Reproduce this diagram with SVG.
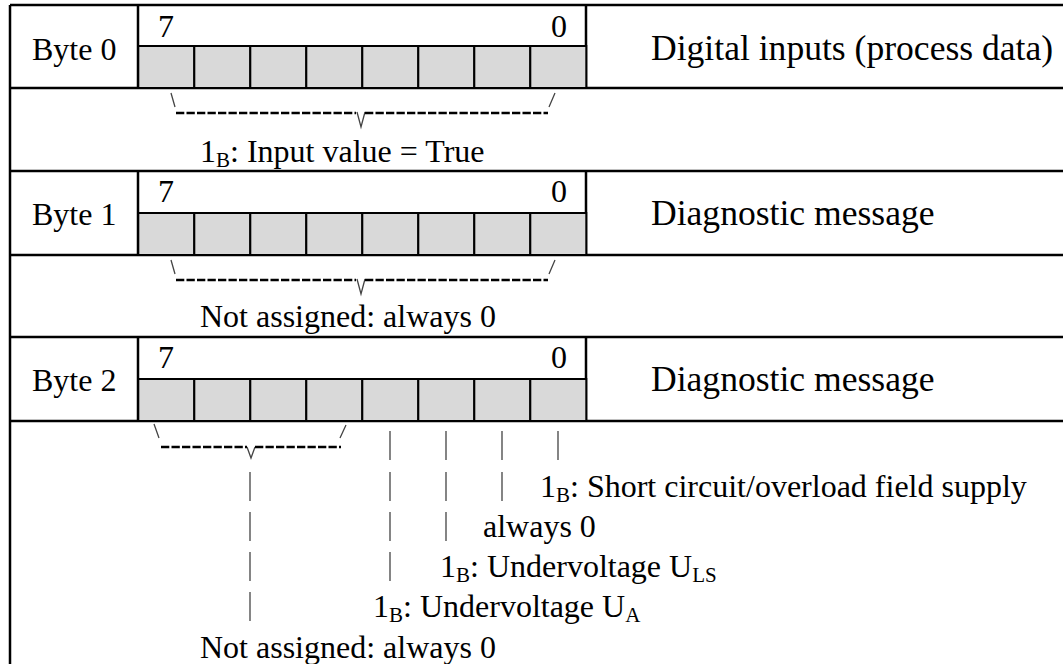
<svg xmlns="http://www.w3.org/2000/svg" width="1063" height="664" viewBox="0 0 1063 664">
<defs>
<style>
.t{font-family:"Liberation Serif","Times New Roman",serif;font-size:32px;fill:#000}
.r{font-size:35.6px}
.sub{font-size:21px}
.grid{stroke:#000;stroke-width:2.5;fill:none}
.cell{fill:#d9d9d9;stroke:#000;stroke-width:2}
.thin{stroke:#444;stroke-width:1.3;fill:none}
.dash{stroke:#000;stroke-width:2.6;stroke-dasharray:8.3 2.2;fill:none}
</style>
<g id="bits">
<rect class="cell" x="0" y="0" width="56" height="42"/>
<rect class="cell" x="56" y="0" width="56" height="42"/>
<rect class="cell" x="112" y="0" width="56" height="42"/>
<rect class="cell" x="168" y="0" width="56" height="42"/>
<rect class="cell" x="224" y="0" width="56" height="42"/>
<rect class="cell" x="280" y="0" width="56" height="42"/>
<rect class="cell" x="336" y="0" width="56" height="42"/>
<rect class="cell" x="392" y="0" width="56" height="42"/>
</g>
</defs>
<rect x="0" y="0" width="1063" height="664" fill="#fff"/>

<g id="table">
<path class="grid" d="M10,5H1063M10,88H1063M10,171H1063M10,255H1063M10,337H1063M10,421H1063M10,5V664"/>
<path class="grid" d="M138,5V88M586,5V88M138,171V255M586,171V255M138,337V421M586,337V421"/>
</g>

<g id="byte0">
<text class="t" x="32" y="60">Byte 0</text>
<use href="#bits" x="138.3" y="46"/>
<text class="t" x="158" y="37">7</text>
<text class="t" x="551" y="37">0</text>
<text class="t r" x="651" y="60">Digital inputs (process data)</text>
</g>
<g id="detail0">
<text class="t" x="200" y="162">1<tspan class="sub" dy="5">B</tspan><tspan dy="-5">: Input value = True</tspan></text>
</g>

<g id="byte1">
<text class="t" x="32" y="225">Byte 1</text>
<use href="#bits" x="138.3" y="213"/>
<text class="t" x="158" y="202">7</text>
<text class="t" x="551" y="202">0</text>
<text class="t r" x="651" y="225">Diagnostic message</text>
</g>
<g id="detail1">
<text class="t" x="200" y="327">Not assigned: always 0</text>
</g>

<g id="byte2">
<text class="t" x="32" y="391">Byte 2</text>
<use href="#bits" x="138.3" y="379"/>
<text class="t" x="158" y="368">7</text>
<text class="t" x="551" y="368">0</text>
<text class="t r" x="651" y="391">Diagnostic message</text>
</g>
<g id="detail2">
<text class="t" x="540" y="497">1<tspan class="sub" dy="5">B</tspan><tspan dy="-5">: Short circuit/overload field supply</tspan></text>
<text class="t" x="483" y="537">always 0</text>
<text class="t" x="440" y="577">1<tspan class="sub" dy="5">B</tspan><tspan dy="-5">: Undervoltage U</tspan><tspan class="sub" dy="5">LS</tspan></text>
<text class="t" x="373" y="617">1<tspan class="sub" dy="5">B</tspan><tspan dy="-5">: Undervoltage U</tspan><tspan class="sub" dy="5">A</tspan></text>
<text class="t" x="200" y="658">Not assigned: always 0</text>
</g>

<g id="connectors">
<path class="thin" d="M171,93L175,107M549,107L555,93M357,112L361,127L365,112"/>
<path class="dash" d="M176,113H356M365,113H548"/>
<path class="thin" d="M171,260L175,274M549,274L555,260M357,279L361,294L365,279"/>
<path class="dash" d="M176,280H356M365,280H548"/>
<path class="thin" d="M154,424L159,438M340,438L346,425M247,447L251,458L255,447"/>
<path class="dash" d="M161,447H247M255,447H341"/>
<path class="thin" d="M390,431V460M446,431V460M502,431V460M558,431V460"/>
<path class="thin" d="M250,472V501M390,472V501M446,472V501M502,472V501"/>
<path class="thin" d="M250,512V541M390,512V541M446,512V541"/>
<path class="thin" d="M250,552V581M390,552V581"/>
<path class="thin" d="M250,592V621"/>
</g>
</svg>
